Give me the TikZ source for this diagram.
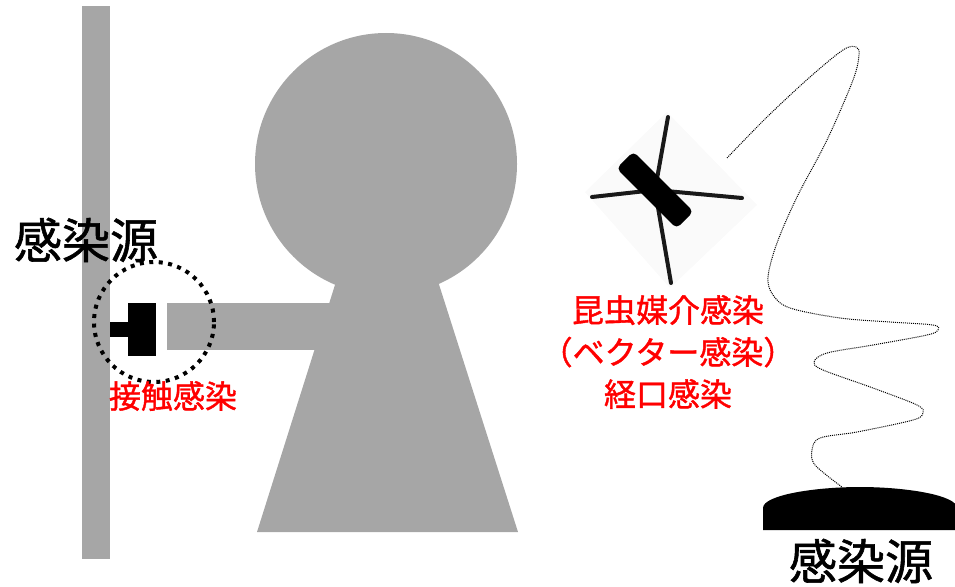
\documentclass[tikz,border=0pt]{standalone}
\usepackage{fontspec}
\setmainfont{Noto Sans CJK JP}[FakeBold=1.2]
\definecolor{bodygray}{HTML}{A6A6A6}

\begin{document}
\begin{tikzpicture}[x=1pt, y=-1pt,
  big/.style={font=\fontsize{48}{52}\selectfont},
  note/.style={text=red, font=\fontsize{32}{42}\selectfont, align=center}]
\useasboundingbox (0,0) rectangle (955,586);
\fill[bodygray] (82,6) rectangle (110,559);
\node[big] (wallsrc) at (86,240) {感染源};
\node[shape=circle, fill=bodygray, minimum size=262pt, inner sep=0pt] (head) at (386,164) {};
\fill[bodygray] (346,250) -- (428,250) -- (518,532) -- (257,532) -- cycle;
\fill[bodygray] (167,303) rectangle (340,350);
\fill[black] (110,322) rectangle (128,337);
\fill[black] (128,303) rectangle (156,356);
\node[shape=circle, draw=black, line width=4pt, dash pattern=on 4pt off 5.5pt, minimum size=120pt] (touch) at (154,322) {};
\node[note] (touchlbl) at (173,396) {接触感染};
\fill[black!2] (585,192) -- (667,112) -- (757,205) -- (670,288) -- cycle;
\draw[line width=4pt, line cap=round, line join=round, black!90] (668,117) -- (655,190) -- (671,283);
\draw[line width=4pt, line cap=round, line join=round, black!90] (592,197) -- (655,190) -- (742,198);
\node[fill=black, rotate=-45, rounded corners=5pt, minimum width=85pt, minimum height=24pt] (bug) at (655,190) {};
\node[note] (buglbl) at (668,352) {昆虫媒介感染\\（ベクター感染）\\経口感染};
\fill[black] (763,530) -- (763,508) .. controls (763,495) and (815,487) .. (860,487) .. controls (905,487) and (957,495) .. (957,508) -- (957,530) -- cycle;
\coordinate (trailend) at (842,487);
\coordinate (trailstart) at (727,158);
\draw[line width=1pt, dash pattern=on 1pt off 1pt] plot[smooth, tension=0.55] coordinates {(trailstart) (767,117) (810,77) (843,50) (856,47) (859,55) (853,80) (827,140) (797,197) (777,243) (768,277) (773,295) (790,308) (840,318) (890,322) (933,325) (938,330) (927,335) (873,345) (827,353) (814,362) (823,370) (873,388) (917,405) (923,413) (913,420) (857,432) (820,438) (812,450) (815,465) (trailend)};
\node[big] (groundsrc) at (861,561) {感染源};
\end{tikzpicture}
\end{document}
